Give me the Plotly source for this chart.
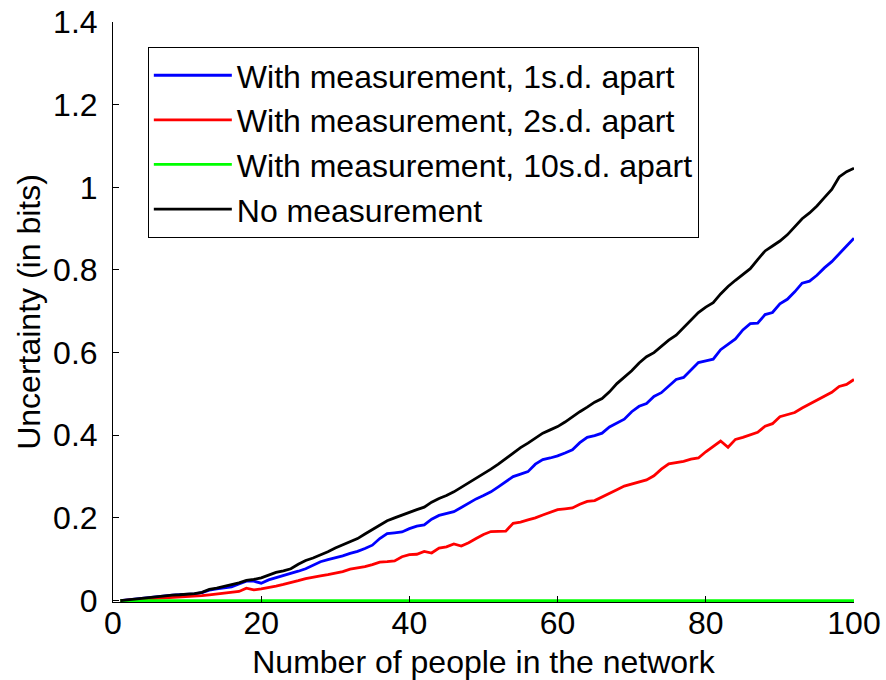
import plotly.graph_objects as go

# Network size (number of people)
people = list(range(1, 101))

# Uncertainty in bits for each scenario
with_meas_1sd = [
    0.000, 0.002, 0.004, 0.006, 0.008, 0.010, 0.012, 0.013, 0.014, 0.015,
    0.016, 0.019, 0.025, 0.028, 0.031, 0.033, 0.040, 0.047, 0.047, 0.042,
    0.050, 0.055, 0.060, 0.065, 0.071, 0.077, 0.085, 0.094, 0.099, 0.103,
    0.108, 0.114, 0.119, 0.126, 0.134, 0.150, 0.162, 0.164, 0.166, 0.174,
    0.180, 0.183, 0.197, 0.206, 0.210, 0.215, 0.225, 0.236, 0.246, 0.254,
    0.263, 0.275, 0.287, 0.300, 0.306, 0.312, 0.330, 0.341, 0.345, 0.350,
    0.357, 0.365, 0.382, 0.395, 0.399, 0.405, 0.420, 0.430, 0.439, 0.457,
    0.470, 0.477, 0.494, 0.503, 0.520, 0.535, 0.540, 0.557, 0.576, 0.580,
    0.584, 0.607, 0.620, 0.633, 0.655, 0.670, 0.671, 0.692, 0.697, 0.718,
    0.729, 0.747, 0.768, 0.773, 0.787, 0.805, 0.820, 0.838, 0.858, 0.877,
]

with_meas_2sd = [
    0.000, 0.001, 0.002, 0.003, 0.004, 0.005, 0.006, 0.007, 0.008, 0.009,
    0.011, 0.012, 0.014, 0.016, 0.018, 0.020, 0.022, 0.030, 0.026, 0.028,
    0.031, 0.035, 0.039, 0.043, 0.048, 0.053, 0.057, 0.060, 0.063, 0.066,
    0.070, 0.076, 0.079, 0.082, 0.087, 0.093, 0.094, 0.096, 0.106, 0.111,
    0.112, 0.119, 0.115, 0.127, 0.130, 0.137, 0.132, 0.140, 0.150, 0.160,
    0.167, 0.167, 0.168, 0.187, 0.190, 0.195, 0.200, 0.207, 0.214, 0.220,
    0.222, 0.224, 0.233, 0.240, 0.242, 0.250, 0.259, 0.268, 0.277, 0.282,
    0.286, 0.292, 0.302, 0.318, 0.331, 0.334, 0.337, 0.342, 0.345, 0.360,
    0.372, 0.386, 0.371, 0.390, 0.395, 0.401, 0.407, 0.422, 0.428, 0.445,
    0.450, 0.455, 0.466, 0.475, 0.484, 0.494, 0.504, 0.518, 0.523, 0.535,
]

with_meas_10sd = [
    0.000, 0.000, 0.000, 0.000, 0.001, 0.001, 0.000, 0.000, 0.000, 0.001,
    0.001, 0.000, 0.000, 0.000, 0.000, 0.000, 0.000, 0.000, 0.000, 0.000,
    0.000, 0.000, 0.000, 0.000, 0.000, 0.000, 0.000, 0.000, 0.000, 0.000,
    0.000, 0.000, 0.000, 0.000, 0.000, 0.000, 0.000, 0.000, 0.000, 0.000,
    0.000, 0.000, 0.000, 0.000, 0.000, 0.000, 0.000, 0.000, 0.000, 0.000,
    0.000, 0.000, 0.000, 0.000, 0.000, 0.000, 0.000, 0.000, 0.000, 0.000,
    0.000, 0.000, 0.000, 0.000, 0.000, 0.000, 0.000, 0.000, 0.000, 0.000,
    0.000, 0.000, 0.000, 0.000, 0.000, 0.000, 0.000, 0.000, 0.000, 0.000,
    0.000, 0.000, 0.000, 0.000, 0.000, 0.000, 0.000, 0.000, 0.000, 0.000,
    0.000, 0.000, 0.000, 0.000, 0.000, 0.000, 0.000, 0.000, 0.000, 0.000,
]

no_meas = [
    0.000, 0.002, 0.004, 0.006, 0.008, 0.010, 0.012, 0.013, 0.014, 0.015,
    0.017, 0.020, 0.027, 0.030, 0.034, 0.038, 0.043, 0.049, 0.051, 0.055,
    0.062, 0.068, 0.072, 0.077, 0.088, 0.097, 0.103, 0.110, 0.118, 0.127,
    0.135, 0.143, 0.150, 0.161, 0.172, 0.182, 0.193, 0.200, 0.207, 0.213,
    0.220, 0.226, 0.238, 0.247, 0.254, 0.263, 0.274, 0.283, 0.294, 0.306,
    0.318, 0.330, 0.343, 0.358, 0.370, 0.381, 0.393, 0.405, 0.413, 0.421,
    0.432, 0.445, 0.457, 0.468, 0.480, 0.489, 0.505, 0.525, 0.540, 0.556,
    0.575, 0.590, 0.600, 0.615, 0.630, 0.642, 0.660, 0.680, 0.697, 0.710,
    0.721, 0.742, 0.760, 0.775, 0.788, 0.803, 0.825, 0.846, 0.858, 0.870,
    0.885, 0.905, 0.924, 0.938, 0.955, 0.975, 0.995, 1.025, 1.038, 1.046,
]

series_names = [
    "With measurement, 1s.d. apart",
    "With measurement, 2s.d. apart",
    "With measurement, 10s.d. apart",
    "No measurement",
]
series_values = [with_meas_1sd, with_meas_2sd, with_meas_10sd, no_meas]
series_colors = ["#0000ff", "#ff0000", "#00ff00", "#000000"]

x_ticks = [0, 20, 40, 60, 80, 100]
y_ticks = [0, 0.2, 0.4, 0.6, 0.8, 1.0, 1.2, 1.4]
y_tick_text = ["0", "0.2", "0.4", "0.6", "0.8", "1", "1.2", "1.4"]

FONT = "Liberation Sans, Arial, Helvetica, sans-serif"

fig = go.Figure()
for name, vals, color in zip(series_names, series_values, series_colors):
    fig.add_trace(go.Scatter(
        x=people, y=vals, name=name, mode="lines",
        line=dict(color=color, width=2.8),
    ))

fig.update_layout(
    width=886, height=680,
    margin=dict(l=113, r=32, t=22, b=78, autoexpand=False),
    paper_bgcolor="white", plot_bgcolor="white",
    font=dict(family=FONT, size=32, color="black"),
    showlegend=True,
    legend=dict(
        x=0.047, y=0.957, xanchor="left", yanchor="top",
        bgcolor="white", bordercolor="black", borderwidth=1,
        font=dict(family=FONT, size=32, color="black"),
        itemwidth=78, tracegroupgap=0,
    ),
)

fig.update_xaxes(
    range=[0, 100], tickvals=x_ticks,
    ticks="inside", ticklen=6, tickwidth=1, tickcolor="black",
    showline=True, linecolor="black", linewidth=1,
    showgrid=False, zeroline=False, mirror=False,
    tickfont=dict(family=FONT, size=32),
    ticklabelstandoff=-7,
    title=dict(text="Number of people in the network",
               font=dict(family=FONT, size=32), standoff=15),
)
fig.update_yaxes(
    range=[-0.0035, 1.4], tickvals=y_ticks, ticktext=y_tick_text,
    ticks="inside", ticklen=6, tickwidth=1, tickcolor="black",
    showline=True, linecolor="black", linewidth=1,
    showgrid=False, zeroline=False, mirror=False,
    tickfont=dict(family=FONT, size=32),
    ticklabelstandoff=8,
    title=dict(text="Uncertainty (in bits)",
               font=dict(family=FONT, size=32), standoff=2),
)

fig.write_html("out.html")
